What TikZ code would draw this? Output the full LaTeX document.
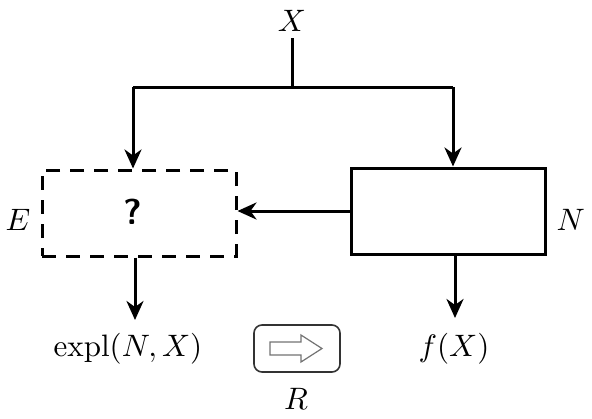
\documentclass[tikz,border=0pt]{standalone}
\usetikzlibrary{arrows.meta,calc}
\begin{document}
\begin{tikzpicture}[x=1pt,y=-1pt,
  lbl/.style={scale=3.1, inner sep=0pt},
  conn/.style={line width=3pt, -{Stealth[length=19pt,width=17pt,inset=6pt]}},
  plain/.style={line width=3pt},
  box/.style={draw, line width=3pt, minimum width=194pt, minimum height=86pt, inner sep=0pt}]
\useasboundingbox (0,0) rectangle (592,418);
\node[lbl] (X) at (292,21) {$X$};
\coordinate (top) at (292,38);
\coordinate (split) at (292,87);
\coordinate (sl) at (133,87);
\coordinate (sr) at (453,87);
\node[box, dash pattern=on 14pt off 10pt] (E) at (139,213) {};
\node[scale=3.6, inner sep=0pt, font=\sffamily\bfseries] (q) at (133,212) {?};
\node[box] (N) at (448.5,211) {};
\node[lbl, anchor=east] (El) at (31,220) {$E$};
\node[lbl, anchor=west] (Nl) at (556,220) {$N$};
\node[lbl] (expl) at (128,349) {$\mathrm{expl}(N,X)$};
\node[lbl] (f) at (454,349) {$f(X)$};
\node[draw=black!80, line width=1.6pt, rounded corners=8pt, minimum width=86pt, minimum height=47pt] (R) at (297,348.5) {};
\node[lbl] (Rl) at (296,399) {$R$};
\draw[draw=black!55, fill=white, line width=1.2pt]
  ($(R.center)+(-27,-6.5)$) -- ++(31,0) -- ++(0,-7) -- ($(R.center)+(25,0)$)
  -- ($(R.center)+(4,13.5)$) -- ++(0,-7) -- ++(-31,0) -- cycle;
\draw[plain] (top) -- (split);
\draw[plain] (sl) -- (sr);
\draw[conn] (sl) -- (sl |- E.north);
\draw[conn] (sr) -- (sr |- N.north);
\draw[conn] (N.west) -- (N.west -| E.east);
\coordinate (eb) at (135,320);
\coordinate (nb) at (455,318);
\draw[conn] (eb |- E.south) -- (eb);
\draw[conn] (nb |- N.south) -- (nb);
\end{tikzpicture}
\end{document}
